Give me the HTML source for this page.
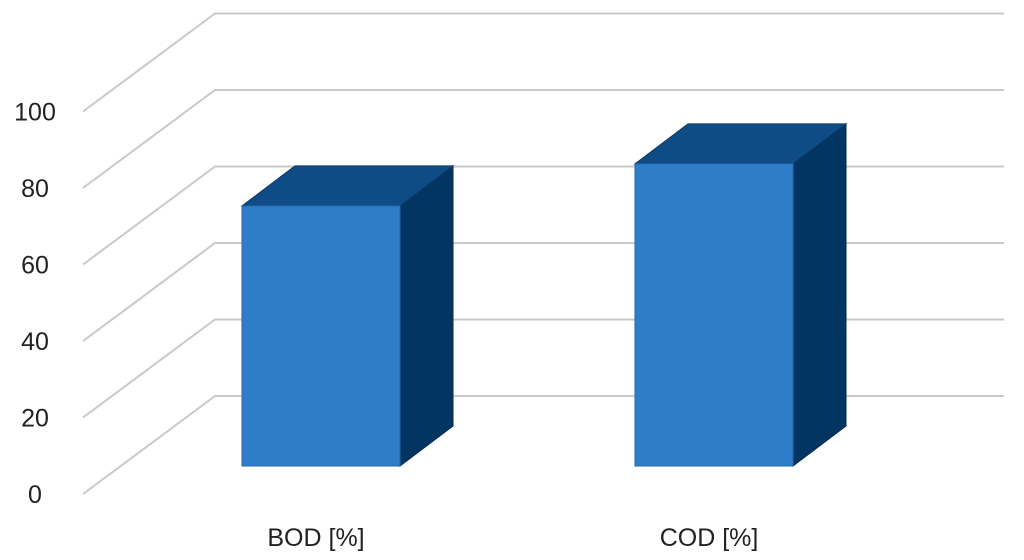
<!DOCTYPE html>
<html><head><meta charset="utf-8"><style>
html,body{margin:0;padding:0;background:#fff;}
svg{display:block;font-family:"Liberation Sans",sans-serif;}
</style></head><body>
<svg id="chart" width="1024" height="560" viewBox="0 0 1024 560"></svg>
<script>
const categories = ["BOD [%]", "COD [%]"];
const values = [68, 79];
const tickLabels = [0, 20, 40, 60, 80, 100];

const NS = "http://www.w3.org/2000/svg";
const svg = document.getElementById("chart");
function mk(tag, attrs, parent) {
  const e = document.createElementNS(NS, tag);
  for (const k in attrs) e.setAttribute(k, attrs[k]);
  (parent || svg).appendChild(e);
  return e;
}
// axis: front labels plane & back wall
const labelY0 = 494, backY0 = 396, unitPx = 3.825;
const leftX = 83, backX = 215, rightX = 1004;
const yLabel = v => labelY0 - v * unitPx;
const yBack = v => backY0 - v * unitPx;

const grid = mk("g", {});


tickLabels.forEach(t => {
  const d = mk("polyline", {points: `${leftX},${yLabel(t)} ${backX},${yBack(t)} ${rightX},${yBack(t)}`, fill: "none", stroke: "#c9c9c9", "stroke-width": 2}, grid);
  
  
  const tx = mk("text", {x: 35, y: yLabel(t) + 9, "text-anchor": "middle", "font-size": 25, fill: "#222"});
  tx.textContent = t;
  
  
});

// bars
const frontY0 = 466, dx = 53, dy = -40, barW = 158;
const barX = i => 242 + i * 393;
const yFront = v => frontY0 - v * unitPx;
categories.forEach((c, i) => {
  const g = mk("g", {});
  
  
  const x0 = barX(i), x1 = x0 + barW, yt = yFront(values[i]), yb = frontY0;
  mk("polygon", {points: `${x1},${yt} ${x1+dx},${yt+dy} ${x1+dx},${yb+dy} ${x1},${yb}`, fill: "#033563", stroke: "#022a50", "stroke-width": 1}, g);
  mk("polygon", {points: `${x0},${yt} ${x0+dx},${yt+dy} ${x1+dx},${yt+dy} ${x1},${yt}`, fill: "#0f4c86", stroke: "#0a3a68", "stroke-width": 1}, g);
  mk("rect", {x: x0, y: yt, width: barW, height: yb - yt, fill: "#2e7dc8", stroke: "#2468aa", "stroke-width": 1}, g);
  const tx = mk("text", {x: x0 + barW/2 - 5, y: 546, "text-anchor": "middle", "font-size": 25, fill: "#222"});
  tx.textContent = c;
  
  
});
</script>
</body></html>
